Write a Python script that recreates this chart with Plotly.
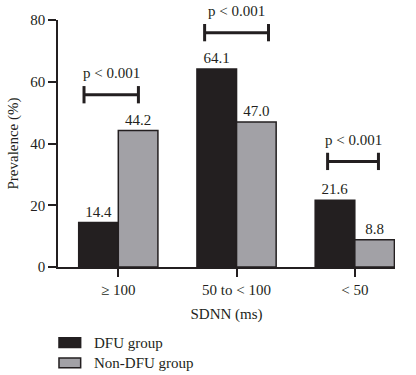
import plotly.graph_objects as go

categories = ["≥ 100", "50 to < 100", "< 50"]
dfu = [14.4, 64.1, 21.6]
non_dfu = [44.2, 47.0, 8.8]
dfu_labels = ["14.4", "64.1", "21.6"]
non_dfu_labels = ["44.2", "47.0", "8.8"]
pvals = ["p < 0.001", "p < 0.001", "p < 0.001"]
bracket_y = [55.8, 75.9, 34.2]
series_names = ["DFU group", "Non-DFU group"]
series_colors = ["#231f20", "#a2a1a6"]

FONT = "Liberation Serif"
DARK = "#231f20"
L, R, T, B, W, H = 53, 21, 12, 108, 416, 375
PW, PH = W - L - R, H - T - B

fig = go.Figure()
for name, vals, labels, col in zip(series_names, [dfu, non_dfu], [dfu_labels, non_dfu_labels], series_colors):
    fig.add_trace(go.Bar(x=categories, y=vals, name=name, text=labels,
                         textposition="outside", cliponaxis=False,
                         marker=dict(color=col, line=dict(color=DARK, width=1.5)),
                         textfont=dict(family=FONT, size=15, color=DARK)))

offsets = [(-0.29, 0.17), (-0.27, 0.27), (-0.23, 0.2)]
for i, (p, yb) in enumerate(zip(pvals, bracket_y)):
    x0, x1 = i + offsets[i][0], i + offsets[i][1]
    fig.add_shape(type="line", x0=x0, x1=x1, y0=yb, y1=yb, line=dict(color=DARK, width=3))
    for xx in (x0, x1):
        fig.add_shape(type="line", x0=xx, x1=xx, y0=yb - 2.8, y1=yb + 2.8, line=dict(color=DARK, width=3))
    fig.add_annotation(x=(x0 + x1) / 2, y=yb + 3.8, text=p, showarrow=False, yanchor="bottom",
                       font=dict(family=FONT, size=15, color=DARK))

# manual legend (paper coordinates relative to plot area)
def py(pix):
    return (T + PH - pix) / PH

def px(pix):
    return (pix - L) / PW

legend_rows = [(340, 350), (361, 371)]
for name, col, (top, bot) in zip(series_names, series_colors, legend_rows):
    fig.add_shape(type="rect", xref="paper", yref="paper", x0=px(54), x1=px(76),
                  y0=py(bot), y1=py(top), fillcolor=col, line=dict(color=DARK, width=1.5))
    fig.add_annotation(xref="paper", yref="paper", x=px(87), y=py((top + bot) / 2),
                       text=name, showarrow=False, xanchor="left", yanchor="middle",
                       font=dict(family=FONT, size=15, color=DARK))

fig.update_layout(
    width=W, height=H,
    margin=dict(l=L, r=R, t=T, b=B),
    plot_bgcolor="white", paper_bgcolor="white",
    barmode="group", bargap=0.33, bargroupgap=0.0,
    font=dict(family=FONT, size=15, color=DARK),
    showlegend=False,
    xaxis=dict(range=[-0.51, 2.34], showline=True, linecolor=DARK, linewidth=1.5,
               ticks="outside", ticklen=8, tickcolor=DARK, tickwidth=1.5,
               title=dict(text="SDNN (ms)", standoff=12, font=dict(family=FONT, size=15)),
               tickfont=dict(family=FONT, size=15)),
    yaxis=dict(range=[0, 80], tickvals=[0, 20, 40, 60, 80], showline=True, linecolor=DARK,
               linewidth=1.5, ticks="outside", ticklen=8, tickcolor=DARK, tickwidth=1.5,
               showgrid=False, zeroline=False,
               title=dict(text="Prevalence (%)", standoff=8, font=dict(family=FONT, size=15)),
               tickfont=dict(family=FONT, size=15)),
)
fig.write_html("out.html")
